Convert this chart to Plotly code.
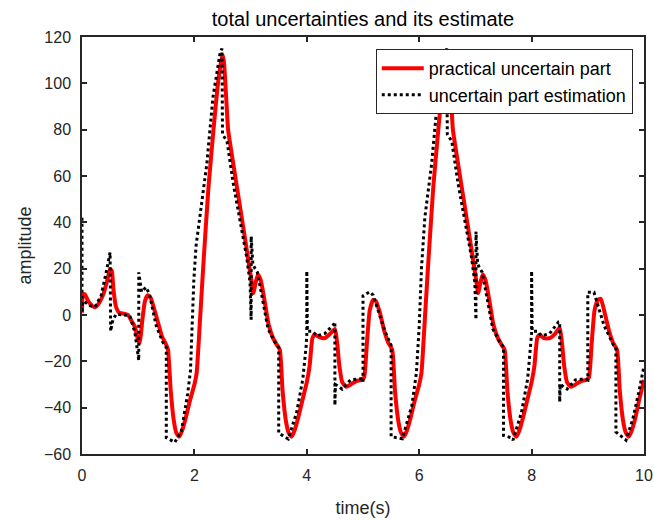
import plotly.graph_objects as go

# practical uncertain part (red, solid)
t_true = [0.00, 0.02, 0.05, 0.11, 0.18, 0.23, 0.30, 0.38, 0.45, 0.50, 0.53, 0.56, 0.60, 0.66, 0.75, 0.82,
          0.88, 0.94, 1.00, 1.03, 1.07, 1.12, 1.17, 1.22, 1.28, 1.35, 1.42, 1.50, 1.53, 1.58, 1.63, 1.68,
          1.73, 1.78, 1.85, 1.92, 2.00, 2.04, 2.10, 2.16, 2.25, 2.34, 2.42, 2.48, 2.51, 2.53, 2.57, 2.60,
          2.70, 2.81, 2.92, 3.02, 3.05, 3.09, 3.13, 3.18, 3.25, 3.32, 3.40, 3.47, 3.52, 3.57, 3.63, 3.68,
          3.73, 3.78, 3.85, 3.92, 4.00, 4.05, 4.10, 4.14, 4.22, 4.32, 4.42, 4.50, 4.54, 4.58, 4.63, 4.70,
          4.78, 4.88, 4.98, 5.02, 5.07, 5.12, 5.18, 5.23, 5.30, 5.38, 5.45, 5.52, 5.57, 5.63, 5.68, 5.73,
          5.78, 5.85, 5.92, 6.00, 6.04, 6.10, 6.16, 6.25, 6.34, 6.42, 6.48, 6.51, 6.53, 6.57, 6.60, 6.70,
          6.81, 6.92, 7.02, 7.05, 7.09, 7.13, 7.18, 7.25, 7.32, 7.40, 7.47, 7.52, 7.57, 7.63, 7.68, 7.73,
          7.78, 7.85, 7.92, 8.00, 8.05, 8.10, 8.14, 8.22, 8.32, 8.42, 8.50, 8.54, 8.58, 8.63, 8.70, 8.78,
          8.88, 8.98, 9.02, 9.07, 9.12, 9.18, 9.23, 9.30, 9.38, 9.45, 9.52, 9.57, 9.63, 9.68, 9.73, 9.78,
          9.85, 9.92, 10.00]
v_true = [1, 9, 9, 6, 4, 3.3, 5, 9, 15, 20, 19, 11, 4, 1, 0.5, 0,
          -2.5, -5, -11, -12, -3, 6, 8.5, 7.5, 3, -3, -9, -13, -15, -33, -45, -51,
          -52.5, -50, -44, -37, -30, -25, -2, 22, 55, 80, 100, 110, 112, 108, 92, 80,
          64, 47, 30, 14, 9.5, 14, 17.5, 15, 6, -4, -10, -13, -15, -33, -46, -51,
          -52.5, -50, -44, -37, -29, -22, -10, -8.5, -9.5, -10, -8, -6, -12, -22, -29, -31,
          -30, -28.5, -28, -27, -12, 2, 6.5, 6, 1, -7, -12, -15, -33, -46, -51, -52.5,
          -50, -44, -37, -30, -25, -2, 22, 55, 80, 100, 110, 112, 108, 92, 80, 64,
          47, 30, 14, 9.5, 14, 17.5, 15, 6, -4, -10, -13, -15, -33, -46, -51, -52.5,
          -50, -44, -37, -29, -22, -10, -8.5, -10, -10, -8, -5.5, -12, -22, -29, -31, -30,
          -28.5, -28, -27, -12, 2, 6.5, 7, 1, -7, -12, -15, -33, -46, -51, -52.5, -50,
          -44, -36, -28]

# uncertain part estimation (black, dotted)
t_est = [0.00, 0.00, 0.01, 0.03, 0.08, 0.14, 0.23, 0.34, 0.43, 0.50, 0.51, 0.55, 0.61, 0.76, 0.85, 0.94,
         1.00, 1.01, 1.01, 1.06, 1.14, 1.20, 1.32, 1.44, 1.50, 1.50, 1.58, 1.65, 1.77, 1.88, 1.93, 1.99,
         2.03, 2.10, 2.22, 2.33, 2.46, 2.49, 2.50, 2.58, 2.69, 2.81, 2.93, 2.99, 3.01, 3.01, 3.04, 3.08,
         3.12, 3.20, 3.31, 3.43, 3.50, 3.50, 3.64, 3.67, 3.82, 3.93, 3.99, 4.00, 4.00, 4.01, 4.10, 4.18,
         4.32, 4.48, 4.50, 4.50, 4.51, 4.54, 4.63, 4.78, 4.96, 5.00, 5.00, 5.12, 5.18, 5.39, 5.50, 5.50,
         5.70, 5.87, 5.95, 6.00, 6.04, 6.10, 6.22, 6.33, 6.46, 6.49, 6.50, 6.58, 6.69, 6.81, 6.93, 6.99,
         7.01, 7.01, 7.04, 7.08, 7.12, 7.20, 7.31, 7.43, 7.50, 7.50, 7.64, 7.67, 7.82, 7.93, 7.99, 8.00,
         8.00, 8.01, 8.10, 8.18, 8.32, 8.48, 8.50, 8.50, 8.51, 8.63, 8.78, 8.96, 9.00, 9.00, 9.11, 9.29,
         9.46, 9.50, 9.50, 9.68, 9.80, 9.91, 10.00]
v_est = [42, 1, 5, 6, 5, 4, 3.4, 8.3, 18.4, 27, -7, -2, 0.4, 0, -0.3, -7.4,
         -17.5, -19.6, 18.4, 10, 12, 9, -4.6, -11.8, -14, -53, -54, -55, -50, -34, -24, 15,
         30, 43, 65, 94, 113.5, 115, 78, 75, 57, 41, 25, 14, -2, 34, 22, 20,
         18.5, 8.3, -6, -11.6, -14, -51, -53, -53.5, -42, -27.5, -13, -8, 19, -7, -7, -9,
         -8, -4, -3, -39, -30, -30.4, -32, -28, -27.5, -29, 8.3, 10, 8.6, -7, -13, -52.5,
         -53.4, -39, -25, -5, 20, 42, 65, 94, 113.5, 115, 78, 75, 57, 41, 25, 14,
         -2, 36, 22, 20, 18.5, 8.3, -6, -11.6, -14, -52, -53, -54, -42, -27.5, -13, -8,
         19, -7, -7, -9, -8, -3, -3, -37.5, -30, -32, -28, -27.5, -28, 9.8, 9.8, -4.6,
         -13, -14, -50.5, -54, -45, -33, -22]

x_ticks = [0, 2, 4, 6, 8, 10]
y_ticks = [-60, -40, -20, 0, 20, 40, 60, 80, 100, 120]

FONT = "Liberation Sans, Arial, Helvetica, sans-serif"
DARK = "#262626"

fig = go.Figure()
fig.add_trace(go.Scatter(x=t_true, y=v_true, mode="lines", name="practical uncertain part",
                         line=dict(color="#ff0000", width=4, shape="spline", smoothing=0.5)))
fig.add_trace(go.Scatter(x=t_est, y=v_est, mode="lines", name="uncertain part estimation",
                         line=dict(color="#000000", width=3, dash="dot")))

axis_common = dict(showgrid=False, zeroline=False, showline=True, linecolor=DARK, linewidth=1.5,
                   mirror="ticks", ticks="inside", ticklen=5, tickwidth=1.5, tickcolor=DARK,
                   automargin=False, ticklabelstandoff=6,
                   tickfont=dict(family=FONT, size=16, color=DARK))

fig.update_layout(
    width=654, height=521,
    margin=dict(l=82, r=10, t=37, b=67, autoexpand=False),
    paper_bgcolor="white", plot_bgcolor="white",
    title=dict(text="total uncertainties and its estimate", x=0.5, xref="paper",
               y=0.963, yref="container", yanchor="middle",
               font=dict(family=FONT, size=20, color="#000000")),
    xaxis=dict(range=[0, 10], tickvals=x_ticks,
               title=dict(text="time(s)", font=dict(family=FONT, size=18, color=DARK), standoff=18),
               **axis_common),
    yaxis=dict(range=[-60, 120], tickvals=y_ticks,
               title=dict(text="amplitude", font=dict(family=FONT, size=18, color=DARK), standoff=8),
               **axis_common),
    legend=dict(x=0.98, y=0.971, xanchor="right", yanchor="top", bgcolor="white",
                bordercolor=DARK, borderwidth=1, font=dict(family=FONT, size=18, color="#000000"),
                itemwidth=42, tracegroupgap=0),
    showlegend=True,
)

fig.write_html("out.html")
